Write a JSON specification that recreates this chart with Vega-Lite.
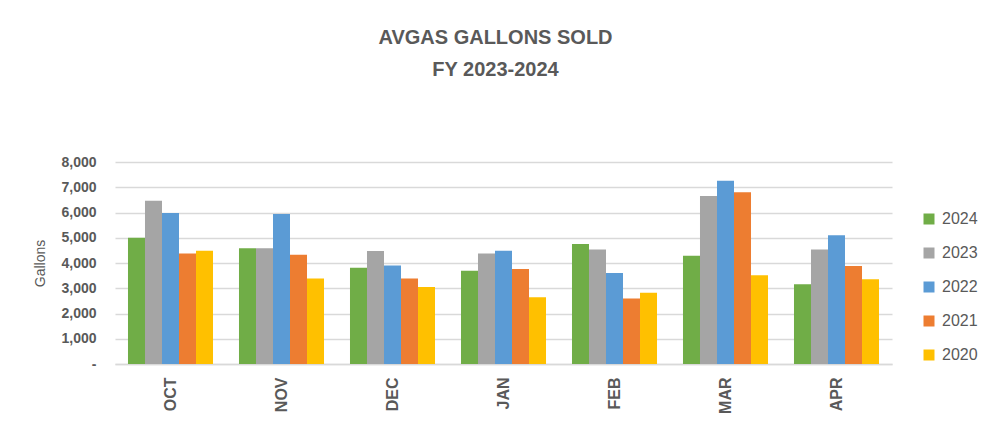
{
  "$schema": "https://vega.github.io/schema/vega-lite/v6.json",
  "width": 777,
  "height": 202,
  "autosize": {"type": "none"},
  "padding": {"left": 115, "top": 162, "right": 93, "bottom": 67},
  "background": "white",
  "title": {
    "text": ["AVGAS GALLONS SOLD", "FY 2023-2024"],
    "anchor": "middle",
    "frame": "group",
    "dx": -8,
    "offset": 75,
    "font": "Liberation Sans Narrow, Liberation Sans",
    "fontSize": 20,
    "fontWeight": "bold",
    "color": "#595959",
    "lineHeight": 32
  },
  "data": {
    "values": [
      {"month": "OCT", "year": "2024", "gallons": 5000},
      {"month": "OCT", "year": "2023", "gallons": 6470},
      {"month": "OCT", "year": "2022", "gallons": 5980},
      {"month": "OCT", "year": "2021", "gallons": 4380},
      {"month": "OCT", "year": "2020", "gallons": 4490},
      {"month": "NOV", "year": "2024", "gallons": 4580},
      {"month": "NOV", "year": "2023", "gallons": 4580},
      {"month": "NOV", "year": "2022", "gallons": 5940},
      {"month": "NOV", "year": "2021", "gallons": 4330},
      {"month": "NOV", "year": "2020", "gallons": 3390},
      {"month": "DEC", "year": "2024", "gallons": 3815},
      {"month": "DEC", "year": "2023", "gallons": 4475},
      {"month": "DEC", "year": "2022", "gallons": 3905},
      {"month": "DEC", "year": "2021", "gallons": 3390},
      {"month": "DEC", "year": "2020", "gallons": 3050},
      {"month": "JAN", "year": "2024", "gallons": 3695},
      {"month": "JAN", "year": "2023", "gallons": 4380},
      {"month": "JAN", "year": "2022", "gallons": 4490},
      {"month": "JAN", "year": "2021", "gallons": 3760},
      {"month": "JAN", "year": "2020", "gallons": 2640},
      {"month": "FEB", "year": "2024", "gallons": 4750},
      {"month": "FEB", "year": "2023", "gallons": 4530},
      {"month": "FEB", "year": "2022", "gallons": 3605},
      {"month": "FEB", "year": "2021", "gallons": 2590},
      {"month": "FEB", "year": "2020", "gallons": 2825},
      {"month": "MAR", "year": "2024", "gallons": 4290},
      {"month": "MAR", "year": "2023", "gallons": 6650},
      {"month": "MAR", "year": "2022", "gallons": 7260},
      {"month": "MAR", "year": "2021", "gallons": 6800},
      {"month": "MAR", "year": "2020", "gallons": 3510},
      {"month": "APR", "year": "2024", "gallons": 3155},
      {"month": "APR", "year": "2023", "gallons": 4530},
      {"month": "APR", "year": "2022", "gallons": 5095},
      {"month": "APR", "year": "2021", "gallons": 3880},
      {"month": "APR", "year": "2020", "gallons": 3355}
    ]
  },
  "mark": {"type": "bar"},
  "encoding": {
    "x": {
      "field": "month",
      "type": "nominal",
      "sort": ["OCT", "NOV", "DEC", "JAN", "FEB", "MAR", "APR"],
      "scale": {"paddingInner": 0.234, "paddingOuter": 0.117},
      "axis": {
        "title": null,
        "labelAngle": -90,
        "labelFont": "Liberation Sans",
        "labelFontSize": 16,
        "labelFontWeight": "bold",
        "labelColor": "#595959",
        "labelPadding": 13,
        "ticks": false,
        "domain": true,
        "domainColor": "#d9d9d9",
        "domainWidth": 1.5
      }
    },
    "xOffset": {
      "field": "year",
      "type": "nominal",
      "sort": ["2024", "2023", "2022", "2021", "2020"]
    },
    "y": {
      "field": "gallons",
      "type": "quantitative",
      "scale": {"domain": [0, 8000], "nice": false},
      "axis": {
        "title": "Gallons",
        "titleFont": "Liberation Sans",
        "titleFontSize": 14,
        "titleFontWeight": "normal",
        "titleColor": "#595959",
        "titlePadding": 13,
        "values": [0, 1000, 2000, 3000, 4000, 5000, 6000, 7000, 8000],
        "labelExpr": "datum.value == 0 ? '-' : format(datum.value, ',')",
        "labelFont": "Liberation Sans",
        "labelFontSize": 14,
        "labelFontWeight": "bold",
        "labelColor": "#595959",
        "labelPadding": 19,
        "ticks": false,
        "domain": false,
        "grid": true,
        "gridColor": "#d9d9d9",
        "gridWidth": 1.5
      }
    },
    "color": {
      "field": "year",
      "type": "nominal",
      "scale": {
        "domain": ["2024", "2023", "2022", "2021", "2020"],
        "range": ["#70ad47", "#a5a5a5", "#5b9bd5", "#ed7d31", "#ffc000"]
      },
      "legend": {
        "title": null,
        "orient": "none",
        "direction": "vertical",
        "legendX": 806,
        "legendY": 49,
        "padding": 0,
        "symbolType": "square",
        "symbolSize": 121,
        "symbolStrokeWidth": 0,
        "labelFont": "Liberation Sans",
        "labelFontSize": 16,
        "labelColor": "#595959",
        "labelOffset": 5,
        "rowPadding": 18
      }
    }
  },
  "config": {
    "view": {"stroke": null}
  }
}
